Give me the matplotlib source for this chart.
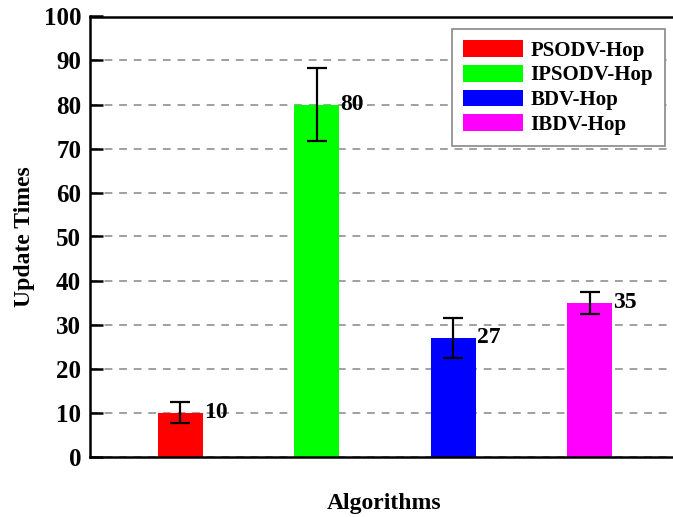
import matplotlib
matplotlib.use("Agg")
import matplotlib.pyplot as plt
from matplotlib.patches import Patch

algorithms = ["PSODV-Hop", "IPSODV-Hop", "BDV-Hop", "IBDV-Hop"]
update_times = [10, 80, 27, 35]
errors = [2.4, 8.3, 4.5, 2.5]
colors = ["#ff0000", "#00ff00", "#0000ff", "#ff00ff"]

plt.rcParams["font.family"] = ["Liberation Serif", "DejaVu Serif"]
plt.rcParams["font.weight"] = "bold"

fig = plt.figure(figsize=(6.73, 5.17), dpi=100)
ax = fig.add_axes([89.5 / 673, 1 - 456.5 / 517, 590 / 673, 440 / 517])

pos = list(range(1, len(algorithms) + 1))
ax.bar(pos, update_times, width=0.33, color=colors, zorder=2)
ax.errorbar(pos, update_times, yerr=errors, fmt="none", ecolor="black",
            elinewidth=1.6, capsize=7.5, capthick=1.6, zorder=3)
for x, v in zip(pos, update_times):
    ax.text(x + 0.175, v, f"{v}", ha="left", va="center", fontsize=17,
            fontweight="bold", zorder=4)

ax.set_xlim(0.333, 4.66)
ax.set_ylim(0, 100)
ax.set_yticks(range(0, 101, 10))
ax.set_xticks([])
ax.yaxis.grid(True, linestyle=(0, (4, 3.5)), color="#a0a0a0", linewidth=1.4, zorder=1)
ax.tick_params(axis="y", direction="in", length=9, width=1.8, labelsize=18, pad=6)
for lab in ax.get_yticklabels():
    lab.set_fontweight("bold")
for side in ("left", "top", "bottom"):
    ax.spines[side].set_linewidth(1.8)
ax.spines["right"].set_visible(False)

ax.set_ylabel("Update Times", fontsize=17, fontweight="bold", labelpad=6)
ax.set_xlabel("Algorithms", fontsize=17, fontweight="bold", labelpad=26)

handles = [Patch(facecolor=c, edgecolor="none") for c in colors]
leg = ax.legend(handles, algorithms, loc="upper right", bbox_to_anchor=(0.975, 0.972),
                fancybox=False, framealpha=1, edgecolor="#888888",
                prop={"size": 15, "weight": "bold"}, handlelength=2.9,
                handleheight=0.85, labelspacing=0.2, borderpad=0.55, handletextpad=0.35,
                borderaxespad=0)
leg.get_frame().set_linewidth(1.2)

fig.savefig("out.png", dpi=100)
